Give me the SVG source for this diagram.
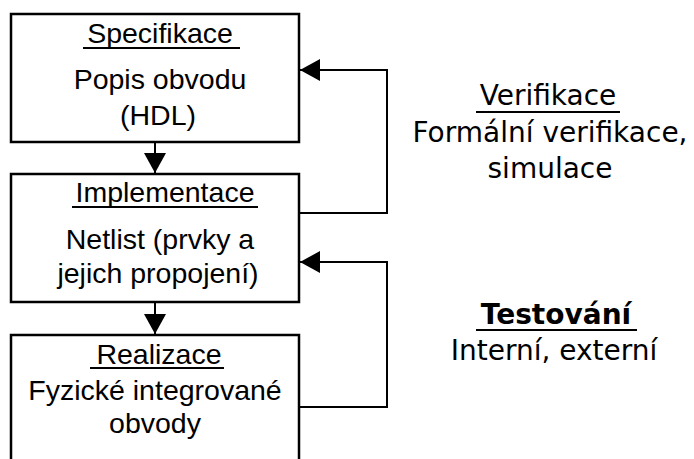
<svg xmlns="http://www.w3.org/2000/svg" width="694" height="459" viewBox="0 0 694 459">
  <defs>
    <style>
      .box { fill: #ffffff; stroke: #000000; stroke-width: 2.5; }
      .wire { fill: none; stroke: #000000; stroke-width: 2; }
      .ul { stroke: #000000; stroke-width: 2; }
      .lbl { font-family: "Liberation Sans", Arial, sans-serif; font-size: 28.5px; fill: #000000; text-anchor: middle; }
      .side { font-family: "DejaVu Sans", sans-serif; font-size: 28px; fill: #000000; text-anchor: middle; }
      .bold { font-weight: bold; }
    </style>
    <marker id="head" markerUnits="userSpaceOnUse" markerWidth="20" markerHeight="22" refX="20" refY="11" orient="auto">
      <path d="M0,0 L20,11 L0,22 Z" fill="#000000"/>
    </marker>
  </defs>

  <!-- flow connectors -->
  <g id="connectors">
    <line class="wire" x1="155" y1="143" x2="155" y2="173" marker-end="url(#head)"/>
    <line class="wire" x1="155" y1="303" x2="155" y2="334" marker-end="url(#head)"/>
    <polyline class="wire" points="300,213 387,213 387,70 300,70" marker-end="url(#head)"/>
    <polyline class="wire" points="300,407 387,407 387,262 300,262" marker-end="url(#head)"/>
  </g>

  <!-- design stages -->
  <g id="specifikace">
    <rect class="box" x="11" y="14" width="288" height="128"/>
    <text class="lbl" x="160" y="43">Specifikace</text>
    <line class="ul" x1="83" y1="48" x2="240" y2="48"/>
    <text class="lbl" x="160" y="89">Popis obvodu</text>
    <text class="lbl" x="158" y="125">(HDL)</text>
  </g>

  <g id="implementace">
    <rect class="box" x="11" y="174" width="288" height="128"/>
    <text class="lbl" x="165" y="202">Implementace</text>
    <line class="ul" x1="72" y1="207" x2="258" y2="207"/>
    <text class="lbl" x="160" y="249">Netlist (prvky a</text>
    <text class="lbl" x="158" y="283">jejich propojení)</text>
  </g>

  <g id="realizace">
    <rect class="box" x="11" y="335" width="288" height="140"/>
    <text class="lbl" x="159" y="364">Realizace</text>
    <line class="ul" x1="90" y1="368" x2="224" y2="368"/>
    <text class="lbl" x="155" y="400">Fyzické integrované</text>
    <text class="lbl" x="155" y="433">obvody</text>
  </g>

  <!-- loop annotations -->
  <g id="verifikace">
    <text class="side" x="548" y="105">Verifikace</text>
    <line class="ul" x1="476" y1="112" x2="620" y2="112"/>
    <text class="side" x="550" y="142">Formální verifikace,</text>
    <text class="side" x="550" y="178">simulace</text>
  </g>

  <g id="testovani">
    <text class="side bold" x="556" y="324">Testování</text>
    <line class="ul" x1="476" y1="330" x2="637" y2="330"/>
    <text class="side" x="554" y="360">Interní, externí</text>
  </g>
</svg>
